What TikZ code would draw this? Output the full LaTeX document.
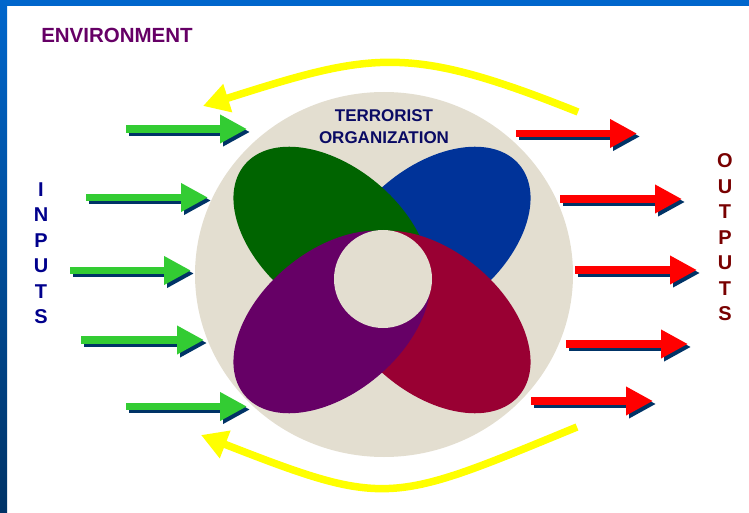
\documentclass[tikz,border=0pt]{standalone}
\usepackage{fontspec}
\setmainfont{Liberation Sans}
\usetikzlibrary{arrows.meta}
\definecolor{framebl}{RGB}{0,102,204}
\definecolor{framedk}{RGB}{0,51,102}
\definecolor{beige}{RGB}{227,222,208}
\definecolor{petalgr}{RGB}{0,100,0}
\definecolor{petalbl}{RGB}{0,51,153}
\definecolor{petalrd}{RGB}{153,0,51}
\definecolor{petalpu}{RGB}{102,0,102}
\definecolor{orgtext}{RGB}{10,10,100}
\definecolor{intext}{RGB}{0,0,140}
\definecolor{outtext}{RGB}{120,0,0}
\definecolor{arrgreen}{RGB}{51,204,51}
\definecolor{arrred}{RGB}{255,0,0}
\definecolor{shadowbl}{RGB}{0,51,102}
\definecolor{loopyel}{RGB}{255,255,0}
\begin{document}
\begin{tikzpicture}[x=1pt,y=1pt,
    thick arrow/.style={line width=7.5pt, -{Triangle[length=27pt,width=27pt]}},
    cycle arrow/.style={draw=loopyel, line width=7.5pt, -{Triangle[length=26pt,width=28pt]}},
    letters/.style={align=center, inner sep=0pt, font=\fontsize{20}{25.5}\selectfont\bfseries}]
  \useasboundingbox (0,0) rectangle (749,512);
  % slide frame
  \fill[framebl] (0,506) rectangle (749,512);
  \shade[top color=framebl, bottom color=framedk] (0,0) rectangle (7,512);
  % organization
  \fill[beige] (384,237.5) ellipse (189 and 182.5);
  \fill[petalbl, rotate around={40:(432,274)}] (432,274) ellipse (114 and 71);
  \fill[petalgr, rotate around={-40:(332,274)}] (332,274) ellipse (114 and 71);
  \fill[petalrd, rotate around={-40:(432,190)}] (432,190) ellipse (114 and 71);
  \fill[petalpu, rotate around={40:(332,190)}] (332,190) ellipse (114 and 71);
  \fill[beige] (383,233) circle (49);
  \node (org) at (384,385) [align=center, inner sep=0pt, text=orgtext,
    font=\fontsize{17}{22}\selectfont\bfseries] {TERRORIST\\ORGANIZATION};
  \node (env) at (117,477) [text=petalpu, font=\fontsize{20.5}{24}\selectfont\bfseries] {ENVIRONMENT};
  \node (inputs) at (41,259) [letters, text=intext] {I\\N\\P\\U\\T\\S};
  \node (outputs) at (725,274.5) [letters, text=outtext] {O\\U\\T\\P\\U\\T\\S};
  % inputs
  \foreach \n/\xa/\xb/\y in {1/126/247/383, 2/86/208/314.5, 3/70/191/241.5, 4/81/204/172, 5/126/247/105.5} {
    \coordinate (in\n) at (\xa,\y);
    \coordinate (in\n tip) at (\xb,\y);
    \draw[thick arrow, shadowbl] ([shift={(3,-3)}]in\n) -- ([shift={(3,-3)}]in\n tip);
    \draw[thick arrow, arrgreen] (in\n) -- (in\n tip);
  }
  % outputs
  \foreach \n/\xa/\xb/\y in {1/516/637/378.5, 2/560/682/313, 3/575/697/242, 4/566/688/168, 5/531/653/111} {
    \coordinate (out\n) at (\xa,\y);
    \coordinate (out\n tip) at (\xb,\y);
    \draw[thick arrow, shadowbl] ([shift={(3,-3)}]out\n) -- ([shift={(3,-3)}]out\n tip);
    \draw[thick arrow, arrred] (out\n) -- (out\n tip);
  }
  % feedback
  \coordinate (fb top) at (578,400);
  \coordinate (fb top tip) at (203,406);
  \draw[cycle arrow] (fb top) .. controls (408,468) and (373,460) .. (fb top tip);
  \coordinate (fb bot) at (577,85);
  \coordinate (fb bot tip) at (201,77);
  \draw[cycle arrow] (fb bot) .. controls (390,8) and (388,4) .. (fb bot tip);
\end{tikzpicture}
\end{document}
